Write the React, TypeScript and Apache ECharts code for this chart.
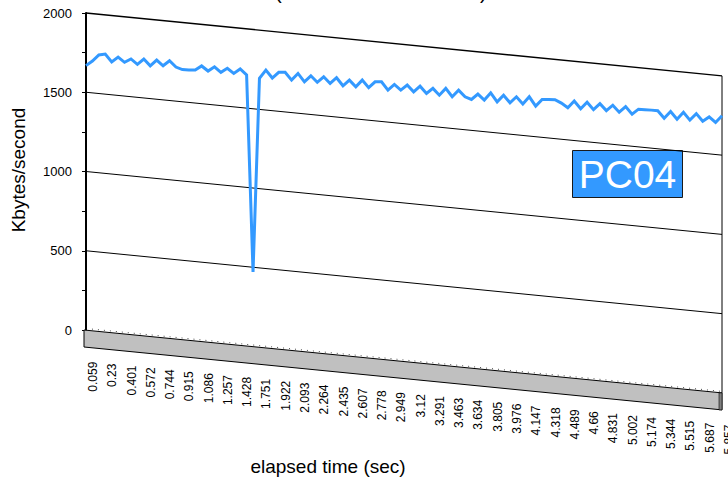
import React, { useEffect, useRef } from "react";
import * as echarts from "echarts";

// Tick labels shown on the category axis (every third sample)
const tickLabels: string[] = [
  "0.059", "0.23", "0.401", "0.572", "0.744", "0.915", "1.086", "1.257", "1.428",
  "1.751", "1.922", "2.093", "2.264", "2.435", "2.607", "2.778", "2.949", "3.12",
  "3.291", "3.463", "3.634", "3.805", "3.976", "4.147", "4.318", "4.489", "4.66",
  "4.831", "5.002", "5.174", "5.344", "5.515", "5.687", "5.857",
];

// Throughput samples, Kbytes/second
const speeds: number[] = [
  1668, 1701, 1743, 1753, 1707, 1742, 1713, 1738, 1708, 1746,
  1707, 1747, 1715, 1751, 1715, 1703, 1704, 1708, 1738, 1710,
  1741, 1710, 1739, 1711, 1743, 1709, 470, 1696, 1752, 1706,
  1746, 1750, 1705, 1751, 1702, 1744, 1707, 1746, 1708, 1748,
  1701, 1741, 1703, 1749, 1705, 1746, 1750, 1702, 1742, 1710,
  1746, 1707, 1747, 1705, 1741, 1702, 1749, 1700, 1746, 1708,
  1695, 1733, 1699, 1749, 1696, 1742, 1698, 1740, 1698, 1748,
  1693, 1739, 1743, 1746, 1728, 1703, 1749, 1705, 1750, 1707,
  1749, 1709, 1747, 1707, 1746, 1702, 1738, 1739, 1740, 1740,
  1697, 1743, 1699, 1747, 1701, 1746, 1702, 1733, 1702, 1749,
];

const gridValues: number[] = [500, 1000, 1500, 2000];
const yTicks = { min: 0, max: 2000, step: 250, labelStep: 500 };
const seriesName = "PC04";

const categories: string[] = speeds.map((_, i) =>
  i % 3 === 0 && tickLabels[i / 3] !== undefined ? tickLabels[i / 3] : ""
);

const SKEW = 0.0989; // perspective slope of the back wall
const FLOOR_DEPTH = 17;
const FONT = "'Liberation Sans', Arial, sans-serif";
const BLUE = "#3399ff";

export default function App() {
  const ref = useRef<HTMLDivElement>(null);
  useEffect(() => {
    if (!ref.current) return;
    const chart = echarts.init(ref.current, undefined, { renderer: "svg" });
    const last = speeds.length - 1;

    const sk = (p: number[], x0: number) => [p[0], p[1] + (p[0] - x0) * SKEW];

    const option: any = {
      animation: false,
      backgroundColor: "#ffffff",
      grid: { left: 86, top: 13, width: 636, height: 317, containLabel: false },
      xAxis: {
        type: "category",
        data: categories,
        boundaryGap: false,
        show: false,
      },
      yAxis: {
        type: "value",
        min: yTicks.min,
        max: yTicks.max,
        interval: yTicks.step,
        axisLine: { show: true, lineStyle: { color: "#000", width: 2 } },
        axisTick: { show: true, length: 4, inside: false, lineStyle: { color: "#000" } },
        splitLine: { show: false },
        axisLabel: {
          margin: 14,
          color: "#000",
          fontSize: 13,
          fontFamily: FONT,
          formatter: (v: number) => (v % yTicks.labelStep === 0 ? String(v) : ""),
        },
      },
      graphic: [
        { type: "text", left: 275, top: -18, style: { text: "(", fontSize: 20, fontFamily: FONT, fill: "#000" } },
        { type: "text", left: 480, top: -18, style: { text: ")", fontSize: 20, fontFamily: FONT, fill: "#000" } },
        {
          type: "text",
          x: 18,
          y: 170,
          rotation: Math.PI / 2,
          style: { text: "Kbytes/second", fontSize: 19, fontFamily: FONT, fill: "#000", align: "center", verticalAlign: "middle" },
        },
        {
          type: "text",
          x: 328,
          y: 466,
          style: { text: "elapsed time (sec)", fontSize: 19, fontFamily: FONT, fill: "#000", align: "center", verticalAlign: "middle" },
        },
        {
          type: "group",
          left: 572,
          top: 150,
          children: [
            { type: "rect", shape: { x: 0, y: 0, width: 110, height: 47 }, style: { fill: BLUE, stroke: "#1a1a1a", lineWidth: 1 } },
            {
              type: "text",
              x: 55,
              y: 24,
              style: { text: seriesName, fontSize: 39, fontFamily: FONT, fill: "#fff", align: "center", verticalAlign: "middle" },
            },
          ],
        },
      ],
      series: [
        {
          type: "custom",
          name: "wall",
          silent: true,
          clip: false,
          z: 1,
          data: [[0, 0]],
          renderItem: (params: any, api: any) => {
            const x0 = api.coord([0, 0])[0];
            const children: any[] = [];
            const b0 = sk(api.coord([0, 0]), x0);
            const b1 = sk(api.coord([last, 0]), x0);
            // floor
            children.push({
              type: "polygon",
              shape: { points: [[b0[0] - 2, b0[1]], b1, [b1[0], b1[1] + FLOOR_DEPTH], [b0[0] - 2, b0[1] + FLOOR_DEPTH]] },
              style: { fill: "#c0c0c0", stroke: "#000", lineWidth: 1 },
            });
            children.push({
              type: "polygon",
              shape: { points: [[b1[0] - 3, b1[1]], b1, [b1[0], b1[1] + FLOOR_DEPTH], [b1[0] - 3, b1[1] + FLOOR_DEPTH]] },
              style: { fill: "#808080", stroke: "#000", lineWidth: 0.6 },
            });
            children.push({
              type: "line",
              shape: { x1: b0[0], y1: b0[1] - 1.5, x2: b1[0], y2: b1[1] - 1.5 },
              style: { stroke: "#000", lineWidth: 1, lineDash: [1, 5], opacity: 0.7 },
            });
            gridValues.forEach((g) => {
              const p0 = sk(api.coord([0, g]), x0);
              const p1 = sk(api.coord([last, g]), x0);
              children.push({
                type: "line",
                shape: { x1: p0[0], y1: p0[1], x2: p1[0], y2: p1[1] },
                style: { stroke: "#000", lineWidth: g === yTicks.max ? 1.4 : 1 },
              });
            });
            const t1 = sk(api.coord([last, yTicks.max]), x0);
            children.push({
              type: "line",
              shape: { x1: t1[0], y1: t1[1], x2: b1[0], y2: b1[1] },
              style: { stroke: "#000", lineWidth: 1 },
            });
            return { type: "group", children };
          },
        },
        {
          type: "custom",
          name: seriesName,
          silent: true,
          clip: false,
          z: 5,
          data: speeds.map((v, i) => [i, v]),
          encode: { x: 0, y: 1 },
          renderItem: (params: any, api: any) => {
            if (params.dataIndex !== 0) return null;
            const x0 = api.coord([0, 0])[0];
            const pts = speeds.map((v, i) => sk(api.coord([i, v]), x0));
            return {
              type: "polyline",
              shape: { points: pts },
              style: { stroke: BLUE, lineWidth: 3, fill: null, lineJoin: "miter" },
            };
          },
        },
        {
          type: "custom",
          name: "labels",
          silent: true,
          clip: false,
          z: 4,
          data: categories.map((c, i) => [i, 0]),
          encode: { x: 0, y: 1 },
          renderItem: (params: any, api: any) => {
            const i = params.dataIndex;
            const text = categories[i];
            if (!text) return null;
            const x0 = api.coord([0, 0])[0];
            const p = api.coord([i, 0]);
            const lx = p[0] + 7;
            const front = p[1] + (lx - x0) * SKEW + FLOOR_DEPTH;
            return {
              type: "text",
              x: lx,
              y: front + 14,
              rotation: Math.PI / 2,
              style: { text, fontSize: 12, fontFamily: FONT, fill: "#000", align: "right", verticalAlign: "middle" },
            };
          },
        },
      ],
    };
    chart.setOption(option);
    return () => chart.dispose();
  }, []);
  return <div ref={ref} style={{ position: "fixed", left: 0, top: 0, width: 728, height: 481 }} />;
}
